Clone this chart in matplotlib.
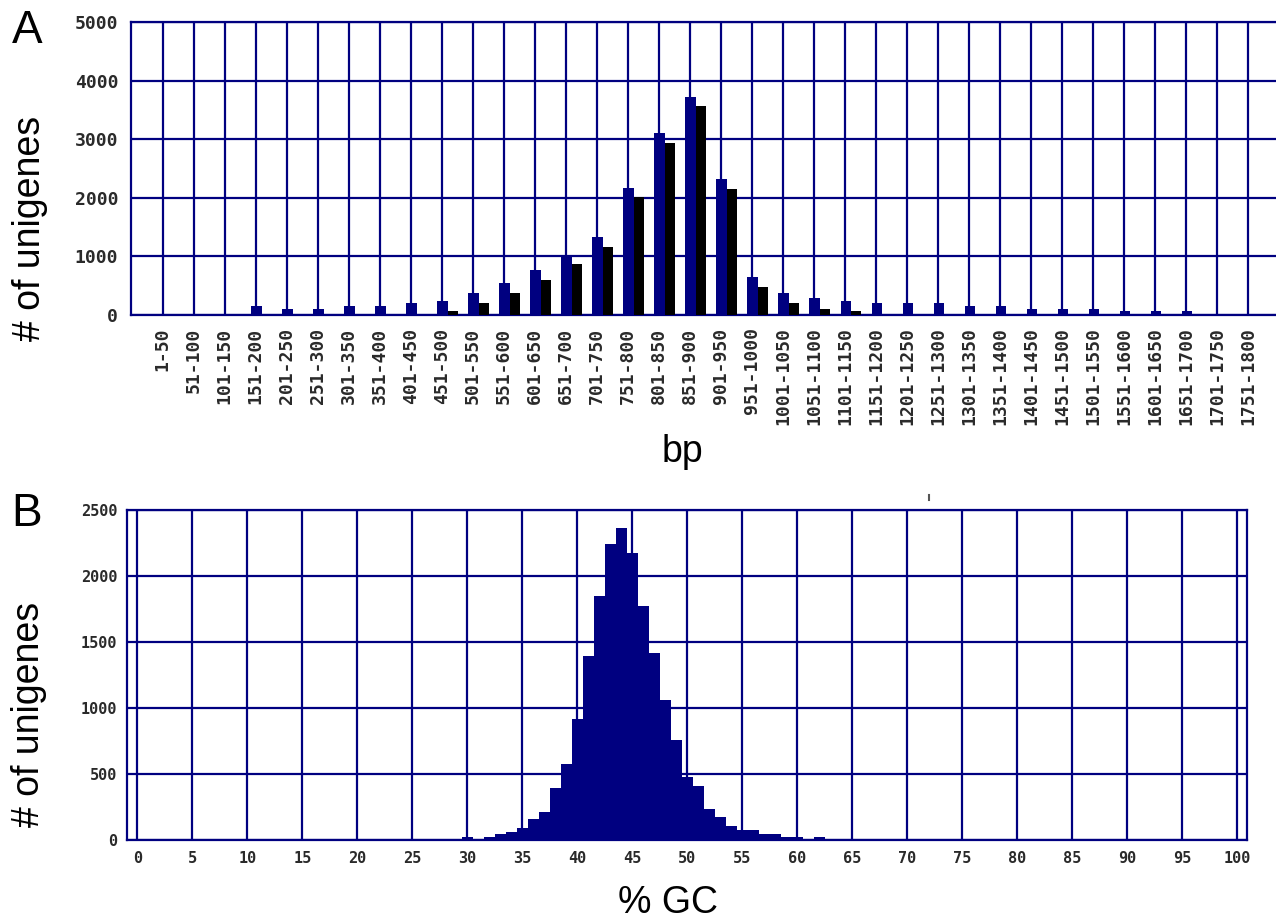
#_____________________________________________________ import libraries ______________________________________________________
import numpy as np
import matplotlib
matplotlib.use("Agg")
import matplotlib.pyplot as plt
from matplotlib.lines import Line2D

#______________________________________________________ Data ______________________________________________________

# Panel A : length distribution of unigenes (bp bins of 50)
bp_bins = ['1-50', '51-100', '101-150', '151-200', '201-250', '251-300', '301-350', '351-400',
           '401-450', '451-500', '501-550', '551-600', '601-650', '651-700', '701-750', '751-800',
           '801-850', '851-900', '901-950', '951-1000', '1001-1050', '1051-1100', '1101-1150',
           '1151-1200', '1201-1250', '1251-1300', '1301-1350', '1351-1400', '1401-1450',
           '1451-1500', '1501-1550', '1551-1600', '1601-1650', '1651-1700', '1701-1750', '1751-1800']
count_blue = [0, 0, 0, 150, 100, 100, 150, 150, 200, 240, 375, 546, 768, 1012, 1336, 2172,
              3111, 3726, 2316, 643, 381, 285, 245, 200, 200, 200, 150, 150, 100, 100, 100,
              70, 70, 70, 0, 0]
count_black = [0, 0, 0, 0, 0, 0, 0, 0, 0, 70, 200, 375, 597, 865, 1166, 2008,
               2940, 3567, 2145, 473, 200, 108, 70, 0, 0, 0, 0, 0, 0, 0, 0,
               0, 0, 0, 0, 0]

# Panel B : GC content distribution (1 % bins)
gc_percent = [30, 31, 32, 33, 34, 35, 36, 37, 38, 39, 40, 41, 42, 43, 44, 45, 46, 47, 48, 49,
              50, 51, 52, 53, 54, 55, 56, 57, 58, 59, 60, 61, 62]
gc_count = [20, 0, 20, 42, 60, 92, 160, 212, 395, 578, 920, 1392, 1845, 2245, 2360, 2178,
            1773, 1418, 1064, 756, 479, 407, 238, 171, 107, 73, 73, 44, 44, 22, 22, 5, 20]

navy = '#000080'
tick_color = '#2a2a2a'

#______________________________________________________ Figure ______________________________________________________
W, H = 1276, 924
fig = plt.figure(figsize=(W / 100, H / 100), dpi=100)

def fig_box(x0, y0, x1, y1):
    # pixel box (top-left origin) -> figure fraction rect
    return [x0 / W, 1 - y1 / H, (x1 - x0) / W, (y1 - y0) / H]

#______________________________________________________ Panel A ______________________________________________________
ax1 = fig.add_axes(fig_box(130.6, 22, 1276, 315))
x = np.arange(len(bp_bins))
ax1.bar(x + 0.02, count_blue, width=0.33, color=navy, zorder=3)
ax1.bar(x + 0.35, count_black, width=0.33, color='black', zorder=3)

ax1.set_xlim(-1.04, 35.9)
ax1.set_ylim(0, 5000)
ax1.set_xticks(x)
ax1.set_xticklabels(bp_bins, rotation=90, family='DejaVu Sans Mono', fontsize=13,
                    fontweight='bold', color=tick_color)
ax1.set_yticks(np.arange(0, 5001, 1000))
ax1.set_yticklabels([str(v) for v in range(0, 5001, 1000)], family='DejaVu Sans Mono',
                    fontsize=13, fontweight='bold', color=tick_color)
ax1.tick_params(axis='x', length=0, pad=9)
ax1.tick_params(axis='y', length=0, pad=9)
ax1.grid(True, color=navy, linewidth=1.6, zorder=1)
ax1.set_axisbelow(True)
for s in ['left', 'top', 'bottom']:
    ax1.spines[s].set_color(navy)
    ax1.spines[s].set_linewidth(1.6)
ax1.spines['right'].set_visible(False)

#______________________________________________________ Panel B ______________________________________________________
ax2 = fig.add_axes(fig_box(127, 510, 1247, 840))
ax2.bar(gc_percent, gc_count, width=1.0, color=navy, linewidth=0, zorder=3)

ax2.set_xlim(-0.95, 100.88)
ax2.set_ylim(0, 2500)
ax2.set_xticks(np.arange(0, 101, 5))
ax2.set_xticklabels([str(v) for v in range(0, 101, 5)], family='DejaVu Sans Mono',
                    fontsize=11, fontweight='bold', color=tick_color)
ax2.set_yticks(np.arange(0, 2501, 500))
ax2.set_yticklabels([str(v) for v in range(0, 2501, 500)], family='DejaVu Sans Mono',
                    fontsize=11, fontweight='bold', color=tick_color)
ax2.tick_params(axis='x', length=0, pad=8)
ax2.tick_params(axis='y', length=0, pad=7)
ax2.grid(True, color=navy, linewidth=1.6, zorder=1)
ax2.set_axisbelow(True)
for s in ax2.spines.values():
    s.set_color(navy)
    s.set_linewidth(1.6)

#______________________________________________________ Labels ______________________________________________________
lab = dict(family=['Liberation Sans', 'DejaVu Sans'], color='black')
fig.text(27 / W, 1 - 31 / H, 'A', fontsize=33, ha='center', va='center', **lab)
fig.text(27 / W, 1 - 514 / H, 'B', fontsize=33, ha='center', va='center', **lab)
fig.text(30 / W, 1 - 228 / H, '# of unigenes', fontsize=27, rotation=90,
         ha='center', va='center', **lab)
fig.text(29 / W, 1 - 714 / H, '# of unigenes', fontsize=27, rotation=90,
         ha='center', va='center', **lab)
fig.text(682 / W, 1 - 452 / H, 'bp', fontsize=27, ha='center', va='center', **lab)
fig.text(668 / W, 1 - 903 / H, '% GC', fontsize=27, ha='center', va='center', **lab)

# small stray mark above panel B
fig.add_artist(Line2D([929 / W, 929 / W], [1 - 495 / H, 1 - 500 / H], color='#555555', linewidth=1.5))

fig.savefig('out.png', dpi=100)
